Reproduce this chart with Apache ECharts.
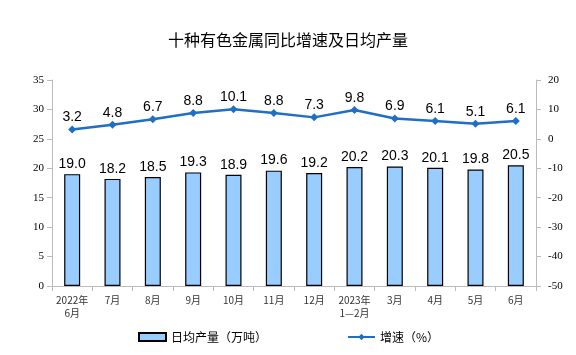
<!DOCTYPE html>
<html><head><meta charset="utf-8">
<script src="https://cdn.jsdelivr.net/npm/echarts@6/dist/echarts.min.js"></script>
<style>html,body{margin:0;padding:0;background:#fff}#c{width:576px;height:355px}</style>
</head><body><div id="c"></div>
<script>
const categories = ['2022年\n6月','7月','8月','9月','10月','11月','12月','2023年\n1—2月','3月','4月','5月','6月'];
const output = [19.0,18.2,18.5,19.3,18.9,19.6,19.2,20.2,20.3,20.1,19.8,20.5];
const growth = [3.2,4.8,6.7,8.8,10.1,8.8,7.3,9.8,6.9,6.1,5.1,6.1];
const leftTicks = [0,35,5];
const rightTicks = [-50,20,10];

const chart = echarts.init(document.getElementById('c'));
chart.setOption({
  animation:false,
  title:{text:'十种有色金属同比增速及日均产量',left:'center',top:27,
    textStyle:{fontFamily:'Noto Sans CJK SC',fontSize:16,fontWeight:'normal',color:'#000'}},
  legend:{left:133,top:326,itemGap:80,itemWidth:27,itemHeight:8,
    textStyle:{fontFamily:'Noto Sans CJK SC',fontSize:12,color:'#000'},
    data:[{name:'日均产量（万吨）',icon:'rect'},{name:'增速（%）'}]},
  grid:{left:52,right:40,top:80,bottom:69},
  xAxis:{type:'category',data:categories,
    axisLine:{lineStyle:{color:'#bbb'}},axisTick:{show:true,lineStyle:{color:'#bbb'}},
    axisLabel:{fontFamily:'Noto Sans CJK SC',fontSize:10,color:'#333',lineHeight:13,interval:0}},
  yAxis:[
    {type:'value',min:leftTicks[0],max:leftTicks[1],interval:leftTicks[2],
     splitLine:{show:false},axisLine:{show:true,lineStyle:{color:'#bbb'}},axisTick:{show:true,lineStyle:{color:'#bbb'}},
     axisLabel:{fontFamily:'Liberation Serif',fontSize:11,color:'#000'}},
    {type:'value',min:rightTicks[0],max:rightTicks[1],interval:rightTicks[2],
     splitLine:{show:false},axisLine:{show:true,lineStyle:{color:'#bbb'}},axisTick:{show:true,lineStyle:{color:'#bbb'}},
     axisLabel:{fontFamily:'Liberation Serif',fontSize:11,color:'#000',margin:12}}
  ],
  series:[
    {name:'日均产量（万吨）',type:'bar',data:output,barWidth:16,
     itemStyle:{color:'#99ccff',borderColor:'#000',borderWidth:1.2},
     label:{show:true,position:'top',distance:3,formatter:p=>p.value.toFixed(1),
       fontFamily:'Liberation Sans',fontSize:14,color:'#000'}},
    {name:'增速（%）',type:'line',yAxisIndex:1,data:growth,symbol:'diamond',symbolSize:8,
     lineStyle:{color:'#1f6fc5',width:2.5},itemStyle:{color:'#1f6fc5'},
     label:{show:true,position:'top',distance:1,formatter:p=>p.value.toFixed(1),
       fontFamily:'Liberation Sans',fontSize:14,color:'#000'}}
  ]
});
</script></body></html>
